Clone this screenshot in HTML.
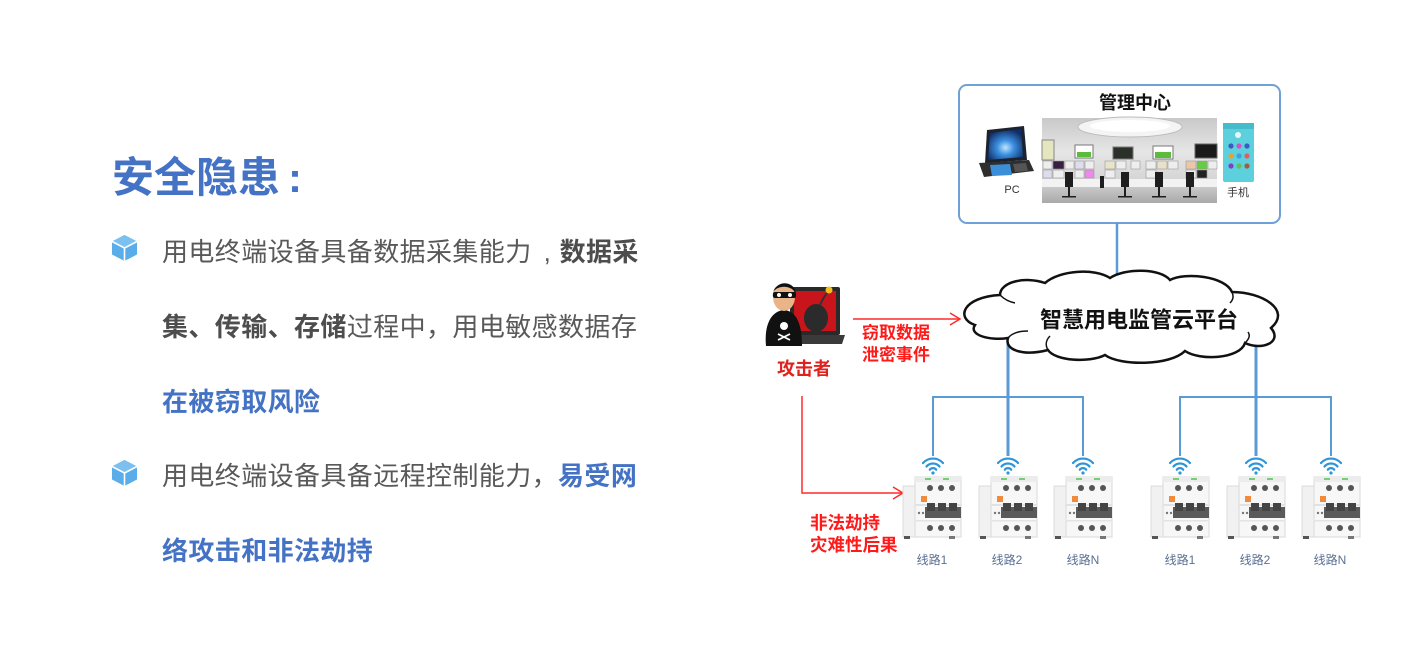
<!DOCTYPE html>
<html><head><meta charset="utf-8">
<style>
html,body{margin:0;padding:0;background:#fff;}
body{width:1404px;height:646px;overflow:hidden;position:relative;font-family:"Liberation Sans","Noto Sans CJK SC",sans-serif;}
.t{position:absolute;left:162px;font-size:26px;line-height:36px;height:36px;white-space:nowrap;color:#595959;letter-spacing:0.4px;}
.b{font-weight:bold;color:#4d4d4d;}
.bl{font-weight:bold;color:#4472c4;}
.title{position:absolute;left:112px;top:153px;font-size:42px;line-height:50px;font-weight:bold;color:#4472c4;white-space:nowrap;}
.cm{display:inline-block;width:28px;text-indent:12px;}
svg{position:absolute;left:0;top:0;}
</style></head><body>
<div class="title">安全隐患<span style="margin-left:8px">:</span></div>

<div class="t" style="top:234px">用电终端设备具备数据采集能力<span class="cm">,</span><span class="b">数据采</span></div>
<div class="t" style="top:309px"><span class="b">集、传输、存储</span>过程中，用电敏感数据存</div>
<div class="t" style="top:384px"><span class="bl">在被窃取风险</span></div>
<div class="t" style="top:458px">用电终端设备具备远程控制能力，<span class="bl">易受网</span></div>
<div class="t" style="top:533px"><span class="bl">络攻击和非法劫持</span></div>

<svg width="1404" height="646" viewBox="0 0 1404 646" xmlns="http://www.w3.org/2000/svg" font-family="Liberation Sans, Noto Sans CJK SC, sans-serif">
<defs>
  <g id="cube">
    <polygon points="12.5,0 25,6.5 25,19.5 12.5,26 0,19.5 0,6.5" fill="#5aade8"/>
    <polygon points="12.5,0 25,6.5 12.5,13 0,6.5" fill="#7cc0f0"/>
    <polyline points="0,6.5 12.5,13 25,6.5" fill="none" stroke="#fff" stroke-width="1.6"/>
    <line x1="12.5" y1="13" x2="12.5" y2="26" stroke="#fff" stroke-width="1.6"/>
  </g>
  <g id="brk">
    <rect x="0" y="9" width="13" height="51" fill="#f1f1f1" stroke="#dcdcdc" stroke-width="1"/>
    <rect x="12" y="0" width="46" height="60" fill="#f7f7f7" stroke="#dadada" stroke-width="1"/>
    <rect x="12" y="0" width="46" height="5" fill="#ececec"/>
    <rect x="22" y="1" width="6" height="2" fill="#7c7"/>
    <rect x="40" y="1" width="6" height="2" fill="#7c7"/>
    <circle cx="27" cy="11" r="3" fill="#555"/>
    <circle cx="38" cy="11" r="3" fill="#555"/>
    <circle cx="49" cy="11" r="3" fill="#555"/>
    <rect x="18" y="19" width="6" height="6" fill="#f08a3c"/>
    <rect x="12" y="27" width="46" height="2" fill="#e2e2e2"/>
    <rect x="22" y="30" width="36" height="11" fill="#5a5a5a"/>
    <rect x="24" y="26" width="8" height="8" fill="#444"/>
    <rect x="35" y="26" width="8" height="8" fill="#444"/>
    <rect x="46" y="26" width="8" height="8" fill="#444"/>
    <circle cx="16" cy="36" r="1.2" fill="#777"/>
    <circle cx="20" cy="36" r="1.2" fill="#777"/>
    <rect x="12" y="43" width="46" height="1.5" fill="#e3e3e3"/>
    <circle cx="27" cy="51" r="3" fill="#555"/>
    <circle cx="38" cy="51" r="3" fill="#555"/>
    <circle cx="49" cy="51" r="3" fill="#555"/>
    <rect x="1" y="59" width="6" height="3" fill="#555"/>
    <rect x="46" y="59" width="6" height="3" fill="#777"/>
  </g>
  <g id="wifi" fill="none" stroke="#2d95d8" stroke-width="2.2" stroke-linecap="round">
    <path d="M-10,-8 A13.5,13.5 0 0 1 10,-8"/>
    <path d="M-6.5,-4.5 A8.5,8.5 0 0 1 6.5,-4.5"/>
    <path d="M-3.2,-1.3 A4,4 0 0 1 3.2,-1.3"/>
    <circle cx="0" cy="2" r="1.6" fill="#2d95d8" stroke="none"/>
  </g>
  <linearGradient id="cr" x1="0" y1="0" x2="0" y2="1">
    <stop offset="0" stop-color="#c9c9c9"/>
    <stop offset="0.4" stop-color="#e6e6e6"/>
    <stop offset="0.75" stop-color="#d4d4d4"/>
    <stop offset="1" stop-color="#a9a9a9"/>
  </linearGradient>
  <radialGradient id="scr" cx="0.5" cy="0.6" r="0.6">
    <stop offset="0" stop-color="#bfe6ff"/>
    <stop offset="0.4" stop-color="#3b8fe0"/>
    <stop offset="1" stop-color="#0f2d66"/>
  </radialGradient>
</defs>

<use href="#cube" x="112" y="235"/>
<use href="#cube" x="112" y="460"/>

<!-- management center box -->
<rect x="959" y="85" width="321" height="138" rx="8" fill="#fff" stroke="#6fa0d6" stroke-width="2"/>
<text x="1135" y="103" font-size="18" font-weight="bold" fill="#111" text-anchor="middle" dominant-baseline="central">管理中心</text>

<!-- laptop -->
<polygon points="987,130 1024,126 1027,160 985,163" fill="#1c2230"/>
<polygon points="990,133 1021,129 1023,157 988,160" fill="url(#scr)"/>
<polygon points="979,163 1029,160 1034,171 984,177" fill="#2e2e2e"/>
<polygon points="990,165 1010,164 1012,175 992,176" fill="#3a8fd8"/>
<polygon points="1013,164 1026,163 1028,171 1015,172" fill="#555"/>
<text x="1012" y="190" font-size="11" fill="#333" text-anchor="middle" dominant-baseline="central">PC</text>

<!-- control room photo -->
<rect x="1042" y="118" width="175" height="85" fill="url(#cr)"/>
<ellipse cx="1130" cy="127" rx="52" ry="10" fill="#f4f4f4" stroke="#bbb" stroke-width="1"/>
<ellipse cx="1130" cy="126" rx="40" ry="6" fill="#fff"/>
<rect x="1042" y="140" width="12" height="20" fill="#e5e5c0" stroke="#888"/>
<rect x="1075" y="145" width="18" height="13" fill="#fff" stroke="#777"/>
<rect x="1077" y="152" width="14" height="5" fill="#5bbb3a"/>
<rect x="1113" y="147" width="20" height="12" fill="#2b3028" stroke="#777"/>
<rect x="1153" y="146" width="20" height="13" fill="#fff" stroke="#777"/>
<rect x="1155" y="152" width="16" height="6" fill="#5bbb3a"/>
<rect x="1195" y="144" width="22" height="14" fill="#1a1a1a" stroke="#666"/>
<g stroke="#999" stroke-width="0.6">
<rect x="1043" y="161" width="9" height="8" fill="#eee"/>
<rect x="1053" y="161" width="11" height="8" fill="#3a2040"/>
<rect x="1065" y="161" width="9" height="8" fill="#eee"/>
<rect x="1075" y="161" width="9" height="8" fill="#dde"/>
<rect x="1085" y="161" width="9" height="8" fill="#eee"/>
<rect x="1105" y="161" width="10" height="8" fill="#e8e4c8"/>
<rect x="1116" y="161" width="10" height="8" fill="#eee"/>
<rect x="1131" y="161" width="9" height="8" fill="#eee"/>
<rect x="1146" y="161" width="10" height="8" fill="#eee"/>
<rect x="1157" y="161" width="10" height="8" fill="#e8e0c8"/>
<rect x="1168" y="161" width="10" height="8" fill="#eee"/>
<rect x="1186" y="161" width="10" height="8" fill="#e8c8a8"/>
<rect x="1197" y="161" width="10" height="8" fill="#6c4"/>
<rect x="1208" y="161" width="9" height="8" fill="#eee"/>
<rect x="1043" y="170" width="9" height="8" fill="#dde"/>
<rect x="1053" y="170" width="11" height="8" fill="#eee"/>
<rect x="1075" y="170" width="9" height="8" fill="#eee"/>
<rect x="1085" y="170" width="9" height="8" fill="#e8e"/>
<rect x="1105" y="170" width="10" height="8" fill="#eee"/>
<rect x="1146" y="170" width="10" height="8" fill="#eee"/>
<rect x="1186" y="170" width="10" height="8" fill="#eee"/>
<rect x="1197" y="170" width="10" height="8" fill="#222"/>
</g>
<rect x="1042" y="179" width="175" height="8" fill="#f2f2f2"/>
<g fill="#1e1e1e">
<rect x="1065" y="172" width="8" height="15"/><rect x="1068" y="187" width="2" height="10"/><rect x="1062" y="196" width="14" height="1.5"/>
<rect x="1121" y="172" width="8" height="15"/><rect x="1124" y="187" width="2" height="10"/><rect x="1118" y="196" width="14" height="1.5"/>
<rect x="1155" y="172" width="8" height="15"/><rect x="1158" y="187" width="2" height="10"/><rect x="1152" y="196" width="14" height="1.5"/>
<rect x="1186" y="172" width="8" height="15"/><rect x="1189" y="187" width="2" height="10"/><rect x="1183" y="196" width="14" height="1.5"/>
<rect x="1100" y="176" width="4" height="12"/>
</g>

<!-- phone -->
<rect x="1223" y="123" width="31" height="59" rx="2" fill="#5cd0dc"/>
<rect x="1223" y="123" width="31" height="6" fill="#45bccb"/>
<circle cx="1238" cy="135" r="3" fill="#e8f8fa"/>
<g>
<circle cx="1231" cy="146" r="2.6" fill="#3b5bc0"/><circle cx="1239" cy="146" r="2.6" fill="#d050c8"/><circle cx="1247" cy="146" r="2.6" fill="#3b5bc0"/>
<circle cx="1231" cy="156" r="2.6" fill="#e8a030"/><circle cx="1239" cy="156" r="2.6" fill="#40a0e0"/><circle cx="1247" cy="156" r="2.6" fill="#e06060"/>
<circle cx="1231" cy="166" r="2.6" fill="#8040c0"/><circle cx="1239" cy="166" r="2.6" fill="#60c060"/><circle cx="1247" cy="166" r="2.6" fill="#a06040"/>
</g>
<text x="1238" y="193" font-size="11" fill="#333" text-anchor="middle" dominant-baseline="central">手机</text>

<!-- blue connectors -->
<g stroke="#5b9bd5" fill="none">
<line x1="1117" y1="223" x2="1117" y2="278" stroke-width="2.5"/>
<line x1="1008" y1="335" x2="1008" y2="456" stroke-width="3"/>
<line x1="1256" y1="333" x2="1256" y2="456" stroke-width="3"/>
<polyline points="933,456 933,397 1083,397 1083,456" stroke-width="2"/>
<polyline points="1180,456 1180,397 1331,397 1331,456" stroke-width="2"/>
</g>

<!-- cloud -->
<path d="M975 325 C955 318,963 297,1000 295 C1000 282,1025 276,1045 283 C1060 270,1095 268,1110 278 C1125 268,1160 268,1170 280 C1185 272,1225 276,1232 292 C1262 292,1292 310,1271 328 C1283 342,1262 351,1245 343 C1240 359,1200 361,1185 351 C1170 366,1120 366,1105 355 C1090 363,1055 361,1048 350 C1025 356,1004 351,1008 338 C990 341,968 335,975 325 Z" fill="#fff" stroke="#111" stroke-width="2.5"/>
<path d="M1000 295 C1005 300,1010 302,1015 303" fill="none" stroke="#111" stroke-width="1.5"/>
<path d="M1232 292 C1234 297,1233 300,1230 303" fill="none" stroke="#111" stroke-width="1.5"/>
<path d="M1008 338 C1012 333,1020 331,1028 331" fill="none" stroke="#111" stroke-width="1.5"/>
<path d="M1048 350 C1045 345,1046 340,1050 336" fill="none" stroke="#111" stroke-width="1.5"/>
<path d="M1245 343 C1250 338,1250 335,1248 332" fill="none" stroke="#111" stroke-width="1.5"/>
<text x="1139" y="320" font-size="22" font-weight="bold" fill="#111" text-anchor="middle" dominant-baseline="central">智慧用电监管云平台</text>

<!-- attacker -->
<rect x="790" y="287" width="50" height="48" rx="2" fill="#2a2a2a"/>
<rect x="794" y="291" width="42" height="40" fill="#c8151b"/>
<polygon points="784,335 845,335 842,344 787,344" fill="#3a3a3a"/>
<ellipse cx="816" cy="318" rx="12" ry="14" fill="#2b2b2b"/>
<path d="M820 305 Q824 296 828 292" stroke="#333" stroke-width="2" fill="none"/>
<circle cx="829" cy="290" r="3.5" fill="#f5c01e"/>
<path d="M766 346 C764 325,771 311,784 310 C797 311,802 325,802 346 Z" fill="#111"/>
<ellipse cx="784" cy="297" rx="11" ry="14" fill="#e8b488"/>
<path d="M773 297 C771 280,797 278,796 296 L795 292 C790 285,778 285,773 292 Z" fill="#111"/>
<rect x="773" y="292" width="23" height="6" rx="2" fill="#111"/>
<circle cx="779" cy="295" r="2" fill="#fff"/><circle cx="790" cy="295" r="2" fill="#fff"/>
<circle cx="784" cy="326" r="4" fill="#fff"/>
<path d="M778 334 L790 340 M790 334 L778 340" stroke="#fff" stroke-width="1.8"/>
<text x="804" y="369" font-size="18" font-weight="bold" fill="#e0211d" text-anchor="middle" dominant-baseline="central">攻击者</text>

<!-- red arrows -->
<g stroke="#ff2a2a" stroke-width="1.5" fill="none">
<line x1="853" y1="319" x2="959" y2="319"/>
<polyline points="950,313 960,319 950,325"/>
<polyline points="802,396 802,493 902,493"/>
<polyline points="893,487 903,493 893,499"/>
</g>
<text x="862" y="333" font-size="17" font-weight="bold" fill="#ff1a1a" dominant-baseline="central">窃取数据</text>
<text x="862" y="355" font-size="17" font-weight="bold" fill="#ff1a1a" dominant-baseline="central">泄密事件</text>
<text x="810" y="523" font-size="17.5" font-weight="bold" fill="#ff1a1a" dominant-baseline="central">非法劫持</text>
<text x="810" y="545" font-size="17.5" font-weight="bold" fill="#ff1a1a" dominant-baseline="central">灾难性后果</text>

<!-- breakers -->
<use href="#brk" x="903" y="477"/>
<use href="#brk" x="979" y="477"/>
<use href="#brk" x="1054" y="477"/>
<use href="#brk" x="1151" y="477"/>
<use href="#brk" x="1227" y="477"/>
<use href="#brk" x="1302" y="477"/>
<use href="#wifi" x="933" y="471"/>
<use href="#wifi" x="1008" y="471"/>
<use href="#wifi" x="1083" y="471"/>
<use href="#wifi" x="1180" y="471"/>
<use href="#wifi" x="1256" y="471"/>
<use href="#wifi" x="1331" y="471"/>

<g font-size="12" fill="#5a6f92" text-anchor="middle">
<text x="932" y="564">线路1</text>
<text x="1007" y="564">线路2</text>
<text x="1083" y="564">线路N</text>
<text x="1180" y="564">线路1</text>
<text x="1255" y="564">线路2</text>
<text x="1330" y="564">线路N</text>
</g>
</svg>
</body></html>
